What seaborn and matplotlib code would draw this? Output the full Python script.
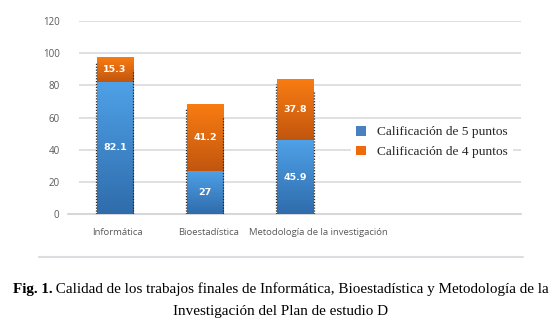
import numpy as np
import pandas as pd
import matplotlib
matplotlib.use("Agg")
import matplotlib.pyplot as plt
import matplotlib.transforms as mtransforms
from matplotlib.patches import Patch
from matplotlib.lines import Line2D
from matplotlib.colors import LinearSegmentedColormap
import seaborn as sns

# Data
categories = ["Informática", "Bioestadística", "Metodología de la investigación"]
cinco_puntos = [82.1, 27, 45.9]
cuatro_puntos = [15.3, 41.2, 37.8]
series_labels = ["Calificación de 5 puntos", "Calificación de 4 puntos"]
y_ticks = [0, 20, 40, 60, 80, 100, 120]
caption_bold = "Fig. 1."
caption_line1 = " Calidad de los trabajos finales de Informática, Bioestadística y Metodología de la"
caption_line2 = "Investigación del Plan de estudio D"

df = pd.DataFrame({"categoria": categories,
                   "cinco": cinco_puntos,
                   "cuatro": cuatro_puntos})
df["total"] = df["cinco"] + df["cuatro"]

sns.set_style("white")
W, H, DPI = 557, 331, 100
fig = plt.figure(figsize=(W / DPI, H / DPI), dpi=DPI)
ax = fig.add_axes([79 / W, 1 - 214 / H, (521 - 79) / W, (214 - 21) / H])

blue_grad = LinearSegmentedColormap.from_list("b", ["#2f6cab", "#4fa1e8"])
orange_grad = LinearSegmentedColormap.from_list("o", ["#c2560f", "#f97c12"])

bar_w = 0.4
# totals drawn first (orange segment on top), then the blue segment over them
sns.barplot(data=df, x="categoria", y="total", color="#e46c0a", width=bar_w,
            ax=ax, zorder=2, saturation=1)
sns.barplot(data=df, x="categoria", y="cinco", color="#4f81bd", width=bar_w,
            ax=ax, zorder=3, saturation=1)

n = len(df)
grad = np.linspace(0, 1, 256).reshape(-1, 1)
for i, patch in enumerate(ax.patches[:2 * n]):
    x0 = patch.get_x()
    x1 = x0 + patch.get_width()
    if i < n:
        y0, y1, cmap, z = df["cinco"][i], df["total"][i], orange_grad, 2.5
    else:
        y0, y1, cmap, z = 0, df["cinco"][i - n], blue_grad, 3.5
    im = ax.imshow(grad, cmap=cmap, extent=[x0, x1, y0, y1], origin="lower",
                   aspect="auto", zorder=z, interpolation="bilinear")
    im.set_clip_path(patch)
    patch.set_facecolor("none")
    patch.set_edgecolor("none")

# dotted edges along the bar sides
xs = np.arange(n)
ax.vlines(xs - bar_w / 2 - 0.015, 0, df["total"] - 3, colors="#222222",
          linestyles=(0, (1, 1.3)), linewidth=0.9, zorder=4)
ax.vlines(xs + bar_w / 2 + 0.005, 0, df["total"] - 8, colors="#222222",
          linestyles=(0, (1, 1.3)), linewidth=0.9, zorder=4)

# segment value labels
for i in range(n):
    c5, c4 = df["cinco"][i], df["cuatro"][i]
    ax.text(i, c5 / 2, f"{c5:g}", ha="center", va="center", color="white",
            fontsize=6.8, fontweight="bold", family="DejaVu Sans", zorder=6)
    ax.text(i, c5 + c4 / 2, f"{c4:g}", ha="center", va="center", color="white",
            fontsize=6.8, fontweight="bold", family="DejaVu Sans", zorder=6)

ax.set_ylim(0, 120)
ax.set_xlim(-0.4, 4.51)
ax.set_yticks(y_ticks)
ax.set_yticklabels([str(t) for t in y_ticks])
ax.yaxis.grid(True, color="#dcdde0", linewidth=1.3, zorder=0)
ax.set_axisbelow(True)
# baseline reaches a little further left than the gridlines
ax.axhline(0, xmin=-11 / 442, xmax=1, color="#d5d7db", linewidth=1.5,
           clip_on=False, zorder=1)
for s in ax.spines.values():
    s.set_visible(False)
ax.tick_params(axis="y", length=0, labelsize=7, colors="#595959", pad=14)
ax.tick_params(axis="x", length=0, labelsize=6.8, colors="#595959", pad=10)
x_shift_px = [2, 4, 23]
for lab, dx in zip(ax.get_xticklabels(), x_shift_px):
    lab.set_family("Open Sans")
    lab.set_transform(lab.get_transform() +
                      mtransforms.ScaledTranslation(dx / DPI, 0, fig.dpi_scale_trans))
for lab in ax.get_yticklabels():
    lab.set_family("Open Sans")
ax.set_xlabel("")
ax.set_ylabel("")

handles = [Patch(facecolor="#4a7fc0", edgecolor="none"),
           Patch(facecolor="#ee6a0a", edgecolor="none")]
leg = ax.legend(handles, series_labels, loc="center left",
                bbox_to_anchor=(351 / W, 1 - 142 / H), bbox_transform=fig.transFigure,
                frameon=True, facecolor="white", edgecolor="none", framealpha=1,
                handlelength=0.75, handleheight=0.75, handletextpad=0.8,
                labelspacing=0.55, borderpad=0.4, borderaxespad=0,
                prop={"family": "Liberation Serif", "size": 9.6})
leg.set_zorder(7)

# chart frame bottom border
fig.add_artist(Line2D([39 / W, 523 / W], [1 - 257 / H] * 2, color="#dcdde0",
                      linewidth=1.5))

# caption with bold figure number
cx = 281 / W
y1 = 1 - 289 / H
y2 = 1 - 312 / H
cap_size = 10.9
t_b = fig.text(0, y1, caption_bold, fontsize=cap_size, fontweight="bold",
               family="Liberation Serif", va="center", ha="left", color="black")
t_r = fig.text(0, y1, caption_line1, fontsize=cap_size, family="Liberation Serif",
               va="center", ha="left", color="black")
fig.canvas.draw()
r = fig.canvas.get_renderer()
wb = t_b.get_window_extent(r).width
wr = t_r.get_window_extent(r).width
start = cx * W - (wb + wr) / 2
t_b.set_x(start / W)
t_r.set_x((start + wb) / W)
fig.text(cx, y2, caption_line2, fontsize=cap_size, family="Liberation Serif",
         va="center", ha="center", color="black")

fig.savefig("out.png", dpi=DPI, facecolor="white")
